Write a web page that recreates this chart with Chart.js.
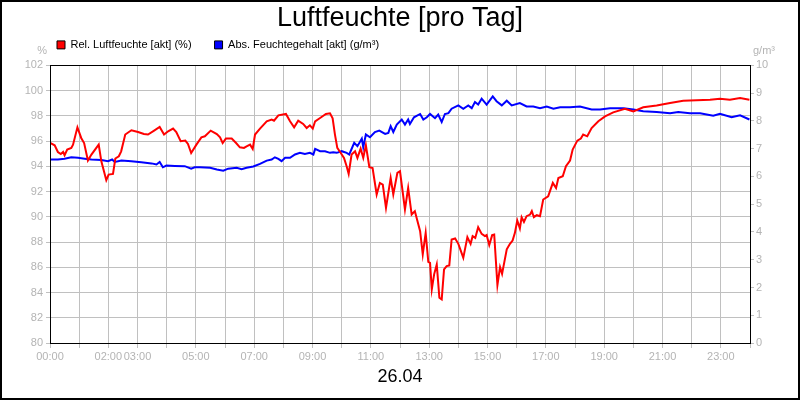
<!DOCTYPE html>
<html>
<head>
<meta charset="utf-8">
<script src="https://cdn.jsdelivr.net/npm/chart.js@4.4.1/dist/chart.umd.min.js"></script>
<style>
  html, body { margin: 0; padding: 0; background: #fff; }
  canvas { display: block; }
</style>
</head>
<body>
<canvas id="c" width="800" height="400"></canvas>
<script>
// ---- Data (hours of day 26.04) ----
const relTimes = [0.02,0.16,0.27,0.37,0.45,0.50,0.59,0.73,0.79,0.94,1.07,1.17,1.30,1.42,1.67,1.76,1.85,1.93,2.01,2.16,2.24,2.36,2.44,2.58,2.79,3.02,3.22,3.36,3.57,3.76,3.91,4.05,4.22,4.33,4.48,4.64,4.73,4.84,5.02,5.19,5.31,5.51,5.72,5.83,5.92,6.03,6.23,6.38,6.51,6.65,6.74,6.86,6.95,7.03,7.20,7.43,7.60,7.68,7.83,8.09,8.23,8.37,8.51,8.68,8.80,8.91,9.01,9.09,9.26,9.46,9.60,9.69,9.77,9.85,9.97,10.08,10.17,10.24,10.34,10.46,10.54,10.65,10.74,10.83,10.95,11.06,11.20,11.31,11.41,11.52,11.68,11.77,11.91,12.00,12.17,12.28,12.40,12.51,12.69,12.78,12.88,12.97,13.03,13.09,13.17,13.26,13.35,13.43,13.51,13.60,13.69,13.77,13.89,14.00,14.08,14.17,14.31,14.42,14.49,14.58,14.68,14.80,14.91,14.97,15.06,15.16,15.23,15.34,15.43,15.50,15.66,15.77,15.86,15.94,16.02,16.11,16.17,16.25,16.34,16.46,16.52,16.59,16.69,16.80,16.91,17.08,17.24,17.35,17.43,17.58,17.69,17.83,17.92,18.08,18.20,18.28,18.42,18.57,18.80,19.03,19.31,19.71,20.00,20.34,20.80,21.26,21.71,22.17,22.63,22.97,23.31,23.66,23.98];
const relValues = [95.85,95.67,95.14,94.98,95.14,94.88,95.33,95.46,95.72,97.09,96.25,95.85,94.46,94.93,95.72,94.40,93.61,92.90,93.35,93.40,94.62,94.80,95.19,96.52,96.86,96.72,96.56,96.52,96.83,97.12,96.52,96.78,96.99,96.72,95.99,96.04,95.77,95.06,95.72,96.30,96.38,96.83,96.56,96.30,95.85,96.20,96.20,95.85,95.51,95.46,95.59,95.72,95.38,96.52,96.99,97.57,97.70,97.62,98.04,98.15,97.57,97.09,97.62,97.36,97.04,97.25,96.99,97.57,97.83,98.15,98.20,97.80,96.52,95.46,95.06,94.67,94.01,93.40,94.93,95.19,94.67,95.41,94.67,95.67,93.93,93.87,91.77,92.69,92.56,90.71,93.08,91.77,93.48,93.61,90.58,92.29,90.18,90.45,88.86,87.02,88.73,86.43,86.35,84.25,85.44,86.23,83.59,83.46,85.83,86.09,86.15,88.20,88.28,87.86,87.34,86.75,88.39,87.86,88.47,88.33,89.18,88.65,88.47,88.55,87.76,88.55,88.60,84.59,86.01,85.48,87.42,87.86,88.12,88.73,89.71,89.08,89.97,89.60,90.05,90.18,90.45,89.97,90.13,90.05,91.37,91.63,92.69,92.29,93.08,93.22,94.01,94.46,95.33,96.04,96.20,96.52,96.38,97.04,97.57,97.96,98.28,98.57,98.36,98.68,98.83,99.02,99.20,99.23,99.28,99.36,99.28,99.41,99.28];

const absTimes = [0.02,0.27,0.50,0.73,0.96,1.19,1.42,1.76,1.99,2.13,2.22,2.45,2.79,3.13,3.48,3.65,3.76,3.87,3.99,4.28,4.62,4.84,4.96,5.14,5.49,5.72,5.94,6.11,6.40,6.57,6.74,6.97,7.20,7.43,7.60,7.71,7.83,7.94,8.06,8.23,8.40,8.57,8.74,8.91,9.03,9.09,9.26,9.43,9.60,9.71,9.83,10.00,10.17,10.26,10.43,10.54,10.69,10.74,10.83,10.97,11.14,11.29,11.49,11.60,11.68,11.77,11.89,12.06,12.17,12.28,12.34,12.48,12.69,12.80,12.92,13.03,13.20,13.31,13.43,13.54,13.66,13.77,14.00,14.17,14.34,14.46,14.57,14.68,14.80,14.97,15.18,15.31,15.49,15.66,15.83,16.11,16.34,16.57,16.80,17.03,17.26,17.49,17.83,18.17,18.57,18.86,19.20,19.66,20.00,20.34,20.80,21.26,21.54,21.94,22.29,22.74,22.97,23.37,23.66,23.98];
const absValues = [6.61,6.61,6.64,6.69,6.67,6.64,6.61,6.59,6.55,6.61,6.52,6.57,6.55,6.51,6.47,6.43,6.52,6.33,6.39,6.38,6.37,6.28,6.33,6.33,6.31,6.25,6.21,6.28,6.31,6.26,6.31,6.36,6.45,6.57,6.61,6.69,6.63,6.55,6.67,6.67,6.79,6.85,6.81,6.85,6.79,6.99,6.91,6.91,6.85,6.87,6.85,6.91,6.85,6.79,7.21,7.09,7.36,7.05,7.51,7.41,7.60,7.65,7.53,7.57,7.81,7.60,7.87,8.05,7.87,8.05,7.89,8.13,8.25,8.05,8.13,8.25,8.10,8.23,7.96,8.25,8.28,8.44,8.56,8.44,8.56,8.46,8.68,8.59,8.80,8.59,8.88,8.71,8.56,8.73,8.56,8.64,8.52,8.52,8.46,8.52,8.44,8.49,8.49,8.52,8.41,8.41,8.46,8.46,8.41,8.35,8.32,8.28,8.32,8.28,8.28,8.19,8.26,8.13,8.20,8.05];

const xTickLabels = ['00:00','02:00','03:00','05:00','07:00','09:00','11:00','13:00','15:00','17:00','19:00','21:00','23:00'];
const seriesNames = ['Rel. Luftfeuchte [akt] (%)', 'Abs. Feuchtegehalt [akt] (g/m\u00B3)'];
const titleText = 'Luftfeuchte [pro Tag]';
const dateText = '26.04';
const leftUnit = '%';
const rightUnit = 'g/m\u00B3';

const FONT = 'Liberation Sans, Arial, sans-serif';
const GRID = '#c0c0c0';
const TICKTXT = '#b4b4b4';

const extras = {
  id: 'extras',
  afterLayout(chart) {
    // nudge legend block to the reference position
    const lg = chart.legend;
    lg.left += 14; lg.right += 14;
    lg.top -= 5; lg.bottom -= 5;
  },
  afterDraw(chart) {
    const ctx = chart.ctx, a = chart.chartArea;
    ctx.save();
    ctx.strokeStyle = '#000';
    ctx.lineWidth = 1;
    ctx.strokeRect(Math.round(a.left) + 0.5, Math.round(a.top) + 0.5, Math.round(a.right - a.left), Math.round(a.bottom - a.top));
    ctx.lineWidth = 2;
    ctx.strokeRect(1, 1, chart.width - 2, chart.height - 2);
    ctx.fillStyle = TICKTXT;
    ctx.font = '11px ' + FONT;
    ctx.textBaseline = 'alphabetic';
    ctx.textAlign = 'right';
    ctx.fillText(leftUnit, a.left - 3, a.top - 11);
    ctx.textAlign = 'left';
    ctx.fillText(rightUnit, a.right + 3, a.top - 11);
    ctx.restore();
  }
};

new Chart(document.getElementById('c'), {
  type: 'line',
  data: {
    datasets: [
      { label: seriesNames[0], data: relTimes.map((t, i) => ({ x: t, y: relValues[i] })),
        borderColor: '#ff0000', backgroundColor: '#ff0000', borderWidth: 2, pointRadius: 0, tension: 0, yAxisID: 'y' },
      { label: seriesNames[1], data: absTimes.map((t, i) => ({ x: t, y: absValues[i] })),
        borderColor: '#0000ff', backgroundColor: '#0000ff', borderWidth: 2, pointRadius: 0, tension: 0, yAxisID: 'y1' }
    ]
  },
  options: {
    responsive: false,
    animation: false,
    devicePixelRatio: 1,
    layout: { padding: { left: 20, right: 20, top: 0, bottom: 0 } },
    plugins: {
      title: { display: true, text: titleText, color: '#000', font: { family: FONT, size: 27, weight: 'normal' }, padding: { top: 2, bottom: -13 } },
      legend: {
        display: true, position: 'top', align: 'start',
        labels: {
          color: '#000', font: { family: FONT, size: 11 }, boxWidth: 8, boxHeight: 8, padding: 23,
          generateLabels: (chart) => chart.data.datasets.map((ds, i) => ({
            text: ds.label, fillStyle: ds.borderColor, strokeStyle: '#000', lineWidth: 1,
            hidden: false, datasetIndex: i, fontColor: '#000'
          }))
        }
      },
      tooltip: { enabled: false }
    },
    scales: {
      x: {
        type: 'linear', min: 0, max: 24,
        afterFit: (s) => { s.height = 57; },
        ticks: { stepSize: 1, autoSkip: false, maxRotation: 0, color: TICKTXT, padding: 2, font: { family: FONT, size: 11 },
          callback: (v) => { const s = String(v).padStart(2, '0') + ':00'; return xTickLabels.includes(s) ? s : ''; } },
        grid: { color: GRID, tickColor: GRID, tickLength: 5 },
        border: { color: '#000', width: 1 },
        title: { display: true, text: dateText, color: '#000', font: { family: FONT, size: 18 }, padding: { top: 0, bottom: 12 } }
      },
      y: {
        position: 'left', min: 80, max: 102,
        afterFit: (s) => { s.width = 30; },
        ticks: { stepSize: 2, color: TICKTXT, padding: 3, font: { family: FONT, size: 11 } },
        grid: { color: GRID, tickColor: GRID, tickLength: 4 },
        border: { color: '#000', width: 1 }
      },
      y1: {
        position: 'right', min: 0, max: 10,
        afterFit: (s) => { s.width = 30; },
        ticks: { stepSize: 1, color: TICKTXT, padding: 2, font: { family: FONT, size: 11 } },
        grid: { drawOnChartArea: false, color: GRID, tickColor: GRID, tickLength: 4 },
        border: { color: '#000', width: 1 }
      }
    }
  },
  plugins: [extras]
});
</script>
</body>
</html>
